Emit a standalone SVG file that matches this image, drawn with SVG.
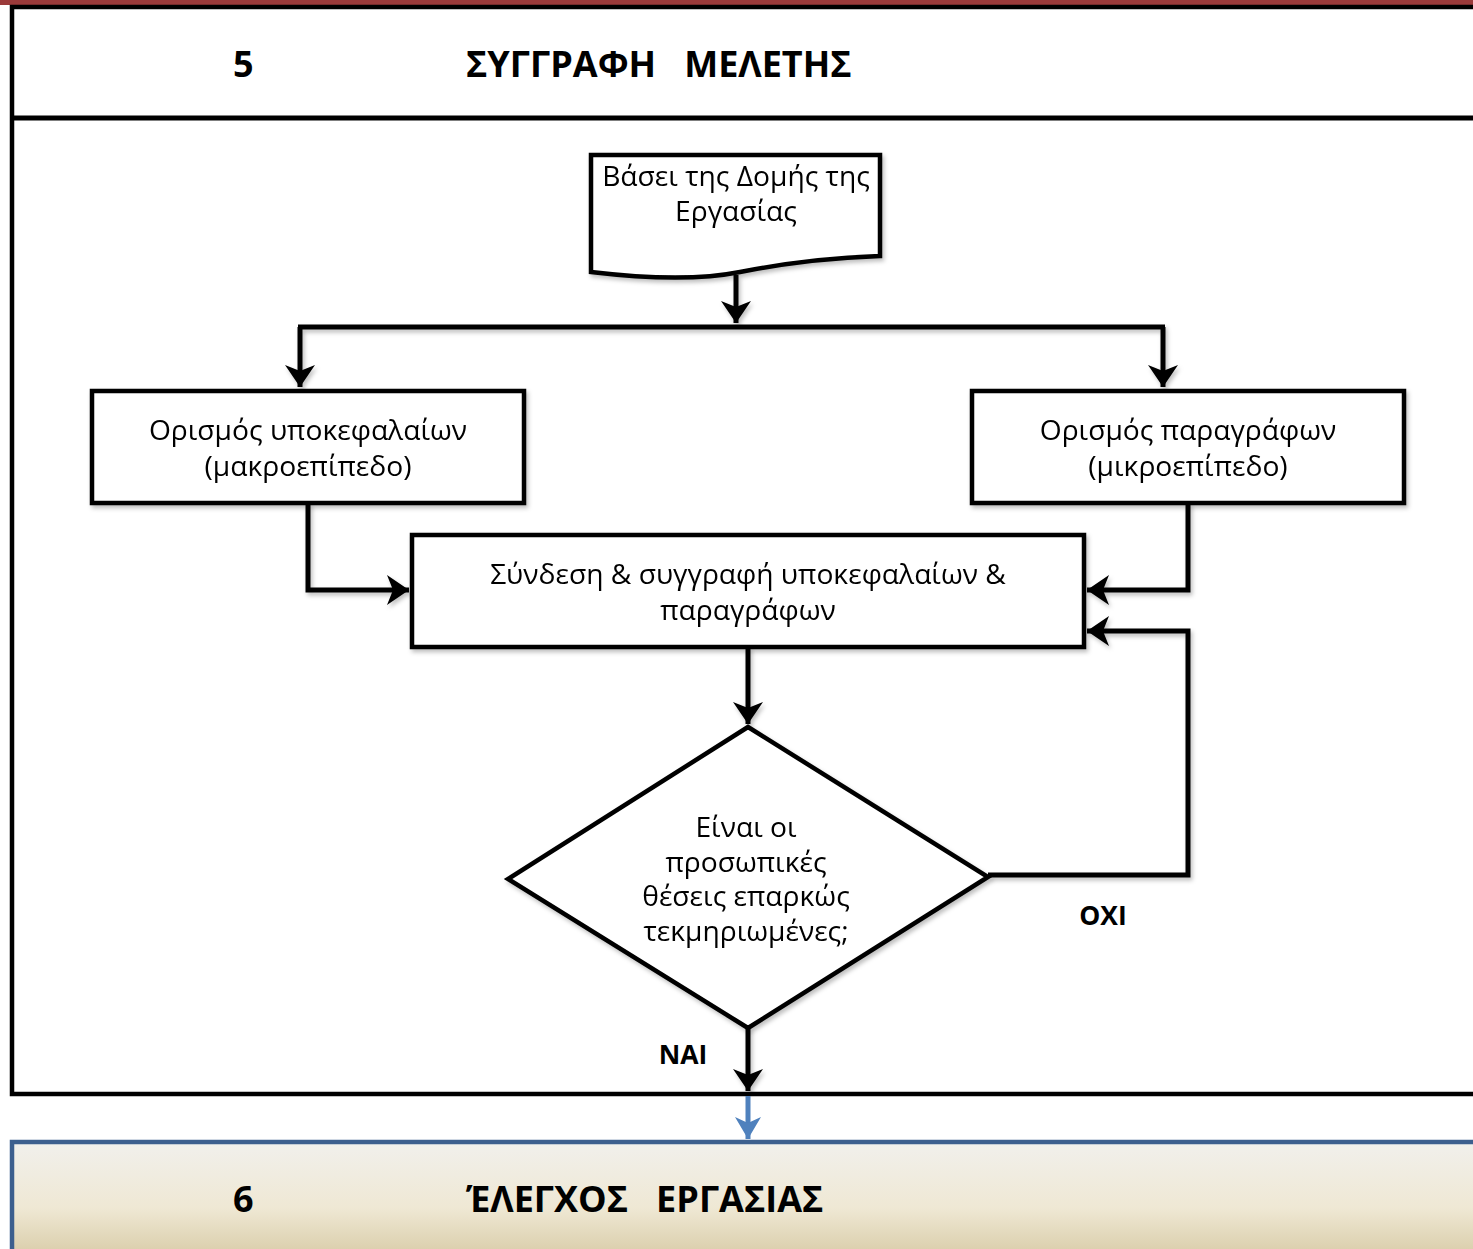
<svg xmlns="http://www.w3.org/2000/svg" width="1473" height="1249" viewBox="0 0 1473 1249">
<style>
.ln{fill:none;stroke:#000;stroke-width:5;stroke-linejoin:miter}
.bx{fill:#fff;stroke:#000;stroke-width:4.5}
.t{font-family:"Open Sans","Noto Sans",sans-serif;font-size:28.2px;fill:#000;text-anchor:middle}
.h{font-family:"Open Sans","Noto Sans",sans-serif;font-size:36px;font-weight:bold;fill:#000}
.lb{font-family:"Open Sans","Noto Sans",sans-serif;font-size:26.5px;font-weight:bold;fill:#000;text-anchor:middle}
</style>
<defs>
<marker id="ar" markerWidth="10" markerHeight="10" refX="9" refY="5" orient="auto" markerUnits="userSpaceOnUse" viewBox="0 0 10 10" overflow="visible">
<path d="M-13,-10 L9,5 L-13,20 L-7,5 Z" fill="#000"/>
</marker>
<marker id="arb" markerWidth="10" markerHeight="10" refX="9" refY="5" orient="auto" markerUnits="userSpaceOnUse" viewBox="0 0 10 10" overflow="visible">
<path d="M-13,-8 L9,5 L-13,18 L-7,5 Z" fill="#4f81bd"/>
</marker>
<linearGradient id="g6" x1="0" y1="0" x2="0" y2="1">
<stop offset="0" stop-color="#f1f0ec"/>
<stop offset="0.55" stop-color="#efe8d4"/>
<stop offset="1" stop-color="#d6c9a3"/>
</linearGradient>
<filter id="sh" x="-5%" y="-5%" width="110%" height="120%">
<feDropShadow dx="2" dy="3" stdDeviation="2" flood-color="#000" flood-opacity="0.25"/>
</filter>
</defs>
<rect x="0" y="0" width="1473" height="1249" fill="#fff"/>
<rect x="0" y="0" width="1473" height="5" fill="#9b3a3a"/>
<g id="section5">
<path d="M1473,7 L12,7 L12,1094 L1473,1094" fill="none" stroke="#000" stroke-width="4.5"/>
<line x1="12" y1="118" x2="1473" y2="118" stroke="#000" stroke-width="5"/>
<text class="h" x="233" y="77">5</text>
<text class="h" x="466" y="77" xml:space="preserve">ΣΥΓΓΡΑΦΗ   ΜΕΛΕΤΗΣ</text>
</g>
<g id="section6">
<rect x="12" y="1142" width="1470" height="120" fill="url(#g6)" stroke="#3c5f8e" stroke-width="4.5"/>
<text class="h" x="233" y="1212">6</text>
<text class="h" x="466" y="1212" xml:space="preserve">ΈΛΕΓΧΟΣ   ΕΡΓΑΣΙΑΣ</text>
</g>
<g id="connectors" filter="url(#sh)">
<line class="ln" x1="736" y1="275" x2="736" y2="323" marker-end="url(#ar)"/>
<line class="ln" x1="298" y1="327" x2="1165" y2="327"/>
<line class="ln" x1="300" y1="327" x2="300" y2="387" marker-end="url(#ar)"/>
<line class="ln" x1="1163" y1="327" x2="1163" y2="387" marker-end="url(#ar)"/>
<polyline class="ln" points="308,503 308,590 409,590" marker-end="url(#ar)"/>
<polyline class="ln" points="1188,503 1188,590 1087,590" marker-end="url(#ar)"/>
<polyline class="ln" points="988,875 1188,875 1188,631 1087,631" marker-end="url(#ar)"/>
<line class="ln" x1="748" y1="647" x2="748" y2="724" marker-end="url(#ar)"/>
<line class="ln" x1="748" y1="1028" x2="748" y2="1091" marker-end="url(#ar)"/>
</g>
<line id="to6" x1="748" y1="1096" x2="748" y2="1139" stroke="#4f81bd" stroke-width="5" marker-end="url(#arb)"/>
<g id="doc" filter="url(#sh)">
<path class="bx" d="M591,155 L880,155 L880,256 C820,258 770,266 740,272 C700,280 650,279 591,272 Z"/>
<text class="t" x="736" y="186">Βάσει της Δομής της</text>
<text class="t" x="736" y="221">Εργασίας</text>
</g>
<g id="macro" filter="url(#sh)">
<rect class="bx" x="92" y="391" width="432" height="112"/>
<text class="t" x="308" y="440">Ορισμός υποκεφαλαίων</text>
<text class="t" x="308" y="476">(μακροεπίπεδο)</text>
</g>
<g id="micro" filter="url(#sh)">
<rect class="bx" x="972" y="391" width="432" height="112"/>
<text class="t" x="1188" y="440">Ορισμός παραγράφων</text>
<text class="t" x="1188" y="476">(μικροεπίπεδο)</text>
</g>
<g id="write" filter="url(#sh)">
<rect class="bx" x="412" y="535" width="672" height="112"/>
<text class="t" x="748" y="584">Σύνδεση &amp; συγγραφή υποκεφαλαίων &amp;</text>
<text class="t" x="748" y="620">παραγράφων</text>
</g>
<g id="decision" filter="url(#sh)">
<polygon class="bx" points="748,727 988,877 748,1028 508,879"/>
<text class="t" x="746" y="837">Είναι οι</text>
<text class="t" x="746" y="872">προσωπικές</text>
<text class="t" x="746" y="906">θέσεις επαρκώς</text>
<text class="t" x="746" y="941">τεκμηριωμένες;</text>
</g>
<text class="lb" x="1103" y="925">ΟΧΙ</text>
<text class="lb" x="683" y="1064">ΝΑΙ</text>
</svg>
